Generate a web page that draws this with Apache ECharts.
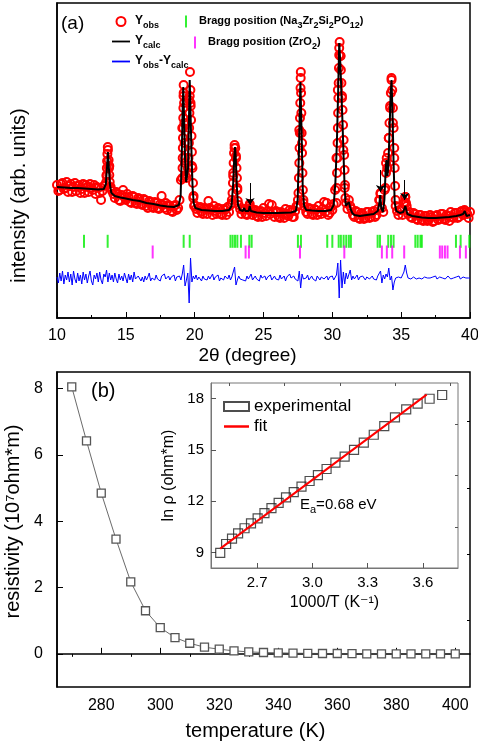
<!DOCTYPE html>
<html>
<head>
<meta charset="utf-8">
<script src="https://cdn.jsdelivr.net/npm/echarts@6/dist/echarts.min.js"></script>
<style>
html, body { margin: 0; padding: 0; background: #fff; }
#main { width: 478px; height: 748px; }
</style>
</head>
<body>
<div id="main"></div>
<script>
// ---------- panel (a): XRD refinement ----------
// observed intensity on a 0.1 degree scan grid, 10..40 deg
var obsStart = 10, obsStep = 0.1;
var obsScan = [
  133, 127, 128, 134, 135, 129, 130, 136, 126, 132,
  134, 126, 131, 135, 127, 132, 133, 125, 129, 134,
  125, 133, 131, 126, 134, 130, 128, 133, 124, 131,
  130, 125, 118, 127, 132, 133, 142, 168, 152, 131,
  127, 124, 120, 126, 124, 118, 117, 123, 128, 121,
  118, 124, 121, 116, 115, 122, 121, 115, 114, 120,
  119, 114, 113, 119, 118, 112, 110, 117, 116, 111,
  110, 116, 115, 110, 109, 114, 122, 113, 110, 115,
  108, 113, 112, 107, 106, 112, 113, 108, 110, 118,
  138, 190, 225, 160, 140, 150, 218, 215, 152, 120,
  113, 109, 105, 110, 111, 106, 104, 110, 109, 104,
  117, 110, 108, 103, 112, 107, 104, 110, 109, 104,
  103, 109, 108, 103, 111, 106, 113, 118, 142, 170,
  160, 130, 113, 109, 104, 108, 109, 104, 103, 108,
  114, 108, 103, 107, 108, 102, 101, 106, 107, 101,
  110, 105, 102, 107, 114, 104, 113, 106, 101, 107,
  106, 101, 100, 106, 104, 100, 109, 104, 102, 108,
  106, 101, 101, 107, 112, 118, 188, 240, 175, 118,
  111, 106, 104, 110, 109, 104, 103, 109, 108, 103,
  112, 106, 104, 109, 116, 106, 115, 103, 105, 111,
  108, 114, 128, 160, 228, 270, 262, 220, 168, 130,
  115, 109, 118, 112, 109, 103, 101, 107, 106, 100,
  99, 105, 104, 99, 100, 106, 106, 100, 101, 106,
  107, 101, 103, 109, 118, 124, 110, 106, 128, 155,
  150, 180, 212, 238, 195, 160, 112, 107, 103, 108,
  108, 103, 114, 121, 112, 104, 106, 101, 100, 105,
  104, 99, 98, 103, 103, 98, 97, 102, 102, 97,
  98, 103, 101, 96, 97, 102, 103, 98, 99, 104,
  104, 99, 98, 103, 102, 97, 106, 101, 100, 105,
  105, 100, 101, 106, 107, 103, 108, 106, 104, 100,
  106
];
// extra observed points on the peak flanks [2theta, intensity]
var obsPeaks = [
  [13.58, 136], [13.6, 143], [13.62, 150], [13.64, 157], [13.66, 164], [13.69, 171],
  [13.75, 158], [13.78, 150], [13.8, 143], [13.83, 136], [13.86, 130],
  [19.1, 140], [19.12, 150], [19.13, 160], [19.14, 170], [19.15, 180], [19.16, 190],
  [19.17, 200], [19.18, 210], [19.19, 222], [19.2, 233], [19.23, 215], [19.25, 195],
  [19.27, 175], [19.3, 155], [19.34, 142],
  [19.52, 145], [19.55, 160], [19.58, 175], [19.6, 190], [19.62, 205], [19.64, 222],
  [19.66, 246], [19.69, 228], [19.71, 212], [19.74, 198], [19.77, 182], [19.8, 166],
  [19.84, 150], [19.88, 135], [19.92, 122], [19.96, 112],
  [22.7, 115], [22.75, 125], [22.78, 135], [22.8, 145], [22.83, 155], [22.86, 165],
  [22.9, 173], [22.95, 170], [23.0, 162], [23.04, 150], [23.07, 140], [23.1, 128], [23.13, 117],
  [23.98, 112], [24.04, 110],
  [27.5, 112], [27.54, 125], [27.57, 140], [27.6, 155], [27.62, 170], [27.64, 185],
  [27.65, 200], [27.67, 215], [27.69, 230], [27.71, 246], [27.73, 225], [27.75, 205],
  [27.77, 185], [27.8, 165], [27.83, 145], [27.86, 128], [27.9, 115],
  [30.3, 115], [30.32, 130], [30.34, 145], [30.36, 160], [30.38, 175], [30.4, 190],
  [30.42, 205], [30.44, 220], [30.46, 235], [30.48, 250], [30.5, 263], [30.53, 276],
  [30.58, 262], [30.62, 248], [30.66, 235], [30.7, 222], [30.74, 208], [30.78, 193],
  [30.82, 178], [30.86, 163], [30.89, 148], [30.92, 133], [30.95, 120],
  [33.45, 118], [33.5, 125],
  [33.85, 130], [33.9, 145], [33.95, 160], [34.0, 150], [34.05, 165], [34.1, 180],
  [34.15, 195], [34.2, 210], [34.25, 225], [34.3, 240], [34.35, 228], [34.4, 210],
  [34.45, 190], [34.5, 170], [34.53, 150], [34.56, 132], [34.6, 118],
  [35.25, 116], [35.3, 121], [35.35, 115]
];
// calculated profile [2theta, intensity]
var calcCurve = [
  [10, 131], [10.5, 130.5], [11, 130], [11.5, 130], [12, 129.5], [12.5, 129], [13, 128.5],
  [13.4, 129], [13.55, 134], [13.63, 150], [13.7, 166], [13.76, 152], [13.84, 134], [13.95, 125],
  [14.2, 122], [14.6, 120.5], [15, 119.5], [15.5, 118], [16, 117], [16.5, 115], [17, 114],
  [17.5, 112.5], [18, 111.5], [18.5, 111], [18.85, 113], [18.98, 122], [19.06, 160], [19.12, 205],
  [19.17, 231], [19.22, 205], [19.3, 160], [19.38, 136], [19.45, 134], [19.52, 150], [19.58, 195],
  [19.64, 238], [19.7, 205], [19.77, 165], [19.85, 130], [19.93, 115], [20.05, 110], [20.5, 108],
  [21, 107.5], [21.5, 107], [22, 107], [22.5, 108], [22.68, 112], [22.8, 135], [22.88, 162],
  [22.93, 171], [22.98, 162], [23.06, 132], [23.15, 113], [23.3, 108], [23.5, 107], [23.6, 110],
  [23.68, 107], [23.92, 107], [24.0, 112], [24.08, 107], [24.5, 105.5], [25, 105], [26, 105],
  [27, 105.5], [27.35, 107], [27.48, 118], [27.58, 170], [27.68, 236], [27.76, 190], [27.85, 130],
  [27.95, 112], [28.1, 108], [28.5, 107.5], [29, 107], [29.5, 107], [29.9, 108], [30.1, 113],
  [30.22, 135], [30.33, 175], [30.42, 225], [30.5, 275], [30.58, 255], [30.66, 225], [30.74, 195],
  [30.82, 160], [30.9, 128], [30.98, 112], [31.1, 111], [31.2, 116], [31.3, 110], [31.45, 105],
  [31.6, 103], [32, 102], [32.5, 103], [33, 104], [33.3, 107], [33.42, 115], [33.48, 123],
  [33.55, 110], [33.68, 106], [33.78, 118], [33.88, 150], [33.93, 158], [34.0, 142], [34.07, 152],
  [34.15, 185], [34.23, 222], [34.3, 238], [34.37, 205], [34.45, 155], [34.53, 115], [34.65, 107],
  [34.9, 105], [35.15, 106], [35.3, 112], [35.45, 104], [35.8, 102], [36.5, 100.5], [37, 100],
  [37.5, 100], [38, 100.5], [38.5, 101], [39, 102], [39.3, 103], [39.5, 104], [39.62, 107],
  [39.75, 102], [40, 103]
];
// difference curve on a 0.1 degree grid
var diffStart = 10, diffStep = 0.1;
var diffScan = [
  41, 35, 45, 37, 47, 34, 43, 38, 46, 36,
  44, 33, 47, 39, 35, 45, 37, 43, 34, 46,
  38, 44, 35, 42, 47, 37, 33, 43, 39, 45,
  36, 46, 38, 34, 44, 41, 48, 36, 45, 38,
  43, 36, 45, 39, 35, 44, 38, 42, 37, 45,
  40, 35, 44, 38, 43, 36, 46, 39, 37, 42,
  43, 37, 41, 36, 42, 38, 41, 45, 37, 40,
  41, 38, 43, 39, 40, 37, 42, 40, 44, 39,
  40, 42, 38, 41, 39, 43, 37, 41, 40, 42,
  38, 44, 53, 32, 38, 45, 15, 60, 36, 42,
  39, 43, 38, 41, 40, 37, 42, 39, 41, 38,
  42, 39, 40, 44, 38, 41, 39, 43, 37, 40,
  41, 38, 42, 40, 39, 43, 38, 41, 43, 51,
  33, 38, 42, 39, 41, 38, 40, 37, 42, 39,
  41, 44, 38, 40, 42, 39, 41, 37, 43, 40,
  39, 42, 38, 41, 40, 43, 38, 40, 42, 39,
  41, 38, 43, 39, 40, 42, 37, 41, 39, 44,
  40, 38, 42, 39, 41, 37, 47, 30, 44, 39,
  41, 40, 43, 38, 40, 42, 39, 41, 37, 42,
  40, 38, 41, 43, 39, 40, 42, 38, 41, 39,
  42, 38, 40, 43, 55, 20, 58, 30, 46, 34,
  45, 39, 41, 48, 38, 42, 39, 40, 43, 38,
  41, 39, 42, 40, 38, 41, 43, 39, 40, 42,
  39, 41, 38, 42, 44, 47, 35, 43, 39, 44,
  41, 50, 38, 42, 28, 36, 40, 38, 41, 39,
  40, 41, 46, 53, 45, 40, 41, 39, 40, 41,
  40, 39, 41, 40, 42, 39, 40, 41, 39, 40,
  41, 40, 39, 41, 40, 42, 39, 40, 41, 39,
  40, 41, 39, 40, 42, 40, 39, 41, 40, 39,
  41, 40, 42, 39, 40, 41, 39, 40, 42, 40,
  40
];
var braggNZSP = [11.96, 13.68, 19.2, 19.64, 22.6, 22.76, 22.93, 23.1, 23.36, 23.97, 24.14,
  27.5, 27.72, 29.63, 30.0, 30.46, 30.62, 30.82, 31.01, 31.2, 31.35, 33.29, 33.46,
  34.06, 34.26, 34.45, 36.03, 36.2, 36.4, 36.5, 38.98, 39.32, 39.95];
var braggZrO2 = [16.95, 23.7, 23.94, 27.65, 30.87, 33.6, 33.96, 34.35, 35.22,
  37.81, 37.98, 38.18, 38.37, 39.27, 39.7];
// impurity arrows: [2theta, tail, tip]
var impurityArrows = [[24.02, 135, 113], [33.5, 148, 126], [35.26, 138, 118]];
var twoThetaTicks = [10, 15, 20, 25, 30, 35, 40];

// ---------- panel (b): resistivity ----------
var temperature = [270, 275, 280, 285, 290, 295, 300, 305, 310, 315, 320, 325, 330, 335,
  340, 345, 350, 355, 360, 365, 370, 375, 380, 385, 390, 395, 400];
var resistivity = [8.05, 6.42, 4.85, 3.46, 2.17, 1.30, 0.79, 0.49, 0.32, 0.20, 0.14, 0.09,
  0.06, 0.04, 0.03, 0.02, 0.015, 0.01, 0.01, 0.005, 0, 0, 0, 0, 0, 0, 0];
var inverseT = [3.704, 3.636, 3.571, 3.509, 3.448, 3.390, 3.333, 3.279, 3.226, 3.175, 3.125,
  3.077, 3.030, 2.985, 2.941, 2.899, 2.857, 2.817, 2.778, 2.740, 2.703, 2.667, 2.632, 2.597,
  2.564, 2.532, 2.500];
var lnRho = [18.2, 17.98, 17.7, 17.36, 16.89, 16.38, 15.88, 15.42, 15.0, 14.6, 14.25, 13.88,
  13.52, 13.18, 12.85, 12.53, 12.22, 11.9, 11.6, 11.3, 11.0, 10.7, 10.42, 10.12, 9.82, 9.5, 8.98];
var fitLine = [[2.5, 9.23], [3.62, 18.22]];
var tempTicks = [280, 300, 320, 340, 360, 380, 400];
var tempMinor = [270, 290, 310, 330, 350, 370, 390];
var rhoTicks = [0, 2, 4, 6, 8];
var rhoMinor = [1, 3, 5, 7];
var invTTicks = [2.7, 3.0, 3.3, 3.6];
var invTMinor = [2.55, 2.85, 3.15, 3.45, 3.75];
var lnTicks = [9, 12, 15, 18];
var lnMinor = [10.5, 13.5, 16.5];

var chartDom = document.getElementById('main');
var myChart = echarts.init(chartDom, null, { renderer: 'canvas' });

var obsData = obsScan.map(function (v, i) { return [obsStart + i * obsStep, v]; }).concat(obsPeaks);
var diffData = diffScan.map(function (v, i) { return [diffStart + i * diffStep, v]; });

var legendNames = {
    'Yobs': '{b|Y}{s|obs}',
    'Ycalc': '{b|Y}{s|calc}',
    'Yobs-Ycalc': '{b|Y}{s|obs}{b|-Y}{s|calc}',
    'Bragg position (Na3Zr2Si2PO12)': '{g|Bragg position (Na}{s|3}{g|Zr}{s|2}{g|Si}{s|2}{g|PO}{s|12}{g|)}',
    'Bragg position (ZrO2)': '{g|Bragg position (ZrO}{s|2}{g|)}'
};
var subRich = {
    b: { fontSize: 12, fontWeight: 'bold', lineHeight: 13, verticalAlign: 'top', color: '#000' },
    g: { fontSize: 11, fontWeight: 'bold', lineHeight: 13, verticalAlign: 'top', color: '#000' },
    s: { fontSize: 9, fontWeight: 'bold', lineHeight: 9, padding: [6, 0, 0, 0], verticalAlign: 'top', color: '#000' }
};
function legendFmt(name) { return legendNames[name] || name; }
var lineIcon = 'path://M0,0H20V2H0Z';

// extra axis that only carries the short (minor) ticks
function tickAxis(grid, min, max, ticks, len, color) {
    return {
        type: 'value', gridIndex: grid, min: min, max: max,
        splitLine: { show: false },
        axisLine: { show: false },
        axisTick: { inside: true, length: len, customValues: ticks, lineStyle: { color: color, width: 1 } },
        axisLabel: { show: false, customValues: ticks }
    };
}

var font = 'Liberation Sans, Arial, Helvetica, DejaVu Sans, sans-serif';

var option = {
    animation: false,
    backgroundColor: '#fff',
    textStyle: { fontFamily: font, color: '#000' },
    grid: [
        { left: 57, right: 8, top: 3, height: 315, outerBoundsMode: 'none', containLabel: false,
          show: true, borderColor: '#000', borderWidth: 1.5, backgroundColor: '#fff' },
        { left: 57, right: 8, top: 372, height: 315, outerBoundsMode: 'none', containLabel: false,
          show: true, borderColor: '#000', borderWidth: 1.5, backgroundColor: '#fff' },
        { left: 211, right: 20, top: 383, height: 185, outerBoundsMode: 'none', containLabel: false,
          show: true, borderColor: '#777', borderWidth: 1, backgroundColor: '#fff' }
    ],
    legend: [
        {
            data: [
                { name: 'Yobs' },
                { name: 'Ycalc', icon: lineIcon, itemStyle: { color: '#000' } },
                { name: 'Yobs-Ycalc', icon: lineIcon, itemStyle: { color: '#0000ff' } }
            ],
            orient: 'vertical', left: 107, top: 10,
            itemWidth: 18, itemHeight: 9, itemGap: 5, selectedMode: false,
            formatter: legendFmt, textStyle: { rich: subRich }
        },
        {
            data: ['Bragg position (Na3Zr2Si2PO12)'], left: 180, top: 10,
            itemWidth: 2, itemHeight: 12, symbolKeepAspect: false, selectedMode: false,
            formatter: legendFmt, textStyle: { rich: subRich, padding: [0, 0, 0, 7] }
        },
        {
            data: ['Bragg position (ZrO2)'], left: 189, top: 31,
            itemWidth: 2, itemHeight: 12, symbolKeepAspect: false, selectedMode: false,
            formatter: legendFmt, textStyle: { rich: subRich, padding: [0, 0, 0, 7] }
        },
        {
            data: [
                { name: 'experimental' },
                { name: 'fit', icon: lineIcon, itemStyle: { color: '#ff0000' } }
            ],
            orient: 'vertical', left: 218, top: 393,
            itemWidth: 25, itemHeight: 9, itemGap: 3, selectedMode: false,
            textStyle: { fontSize: 17, color: '#000' }
        }
    ],
    xAxis: [
        {
            type: 'value', gridIndex: 0, min: 10, max: 40, interval: 5,
            splitLine: { show: false },
            axisLine: { lineStyle: { color: '#000', width: 1.5 } },
            axisTick: { inside: true, length: 6, lineStyle: { color: '#000' } },
            minorTick: { show: true, splitNumber: 2, length: 3, lineStyle: { color: '#000' } },
            axisLabel: { fontSize: 16, color: '#000', margin: 10, customValues: twoThetaTicks },
            name: '2θ (degree)', nameLocation: 'middle', nameGap: 28,
            nameTextStyle: { fontSize: 19, color: '#000', padding: [0, 32, 0, 0] }
        },
        {
            type: 'value', gridIndex: 1, min: 265, max: 405,
            splitLine: { show: false },
            axisLine: { lineStyle: { color: '#000', width: 1.5 } },
            axisTick: { inside: true, length: 6, customValues: tempTicks, lineStyle: { color: '#000' } },
            axisLabel: { fontSize: 16, color: '#000', margin: 11, customValues: tempTicks },
            name: 'temperature (K)', nameLocation: 'middle', nameGap: 34,
            nameTextStyle: { fontSize: 20, color: '#000', padding: [0, 16, 0, 0] }
        },
        tickAxis(1, 265, 405, tempMinor, 3, '#000'),
        {
            type: 'value', gridIndex: 2, min: 2.45, max: 3.79,
            splitLine: { show: false },
            axisLine: { lineStyle: { color: '#777', width: 1 } },
            axisTick: { inside: true, length: 5, customValues: invTTicks, lineStyle: { color: '#555' } },
            axisLabel: {
                fontSize: 15, color: '#000', margin: 7, customValues: invTTicks,
                formatter: function (v) { return v.toFixed(1); }
            },
            name: '1000/T (K⁻¹)', nameLocation: 'middle', nameGap: 27,
            nameTextStyle: { fontSize: 16, color: '#000' }
        },
        tickAxis(2, 2.45, 3.79, invTMinor, 3, '#555')
    ],
    yAxis: [
        {
            type: 'value', gridIndex: 0, min: 0, max: 315,
            splitLine: { show: false },
            axisLine: { lineStyle: { color: '#000', width: 1.5 } },
            axisTick: { show: false }, axisLabel: { show: false },
            name: 'intensity (arb. units)', nameLocation: 'middle', nameGap: 28,
            nameTextStyle: { fontSize: 20, color: '#000', padding: [0, 70, 0, 0] }
        },
        {
            type: 'value', gridIndex: 1, min: -1, max: 8.5,
            splitLine: { show: false },
            axisLine: { lineStyle: { color: '#000', width: 1.5 } },
            axisTick: { inside: true, length: 6, customValues: rhoTicks, lineStyle: { color: '#000' } },
            axisLabel: { fontSize: 16, color: '#000', margin: 14, customValues: rhoTicks },
            name: 'resistivity (10⁷ohm*m)', nameLocation: 'middle', nameGap: 25,
            nameTextStyle: { fontSize: 20, color: '#000', padding: [0, 0, 0, 16] }
        },
        tickAxis(1, -1, 8.5, rhoMinor, 3, '#000'),
        {
            type: 'value', gridIndex: 2, min: 8.1, max: 18.9,
            splitLine: { show: false },
            axisLine: { lineStyle: { color: '#777', width: 1 } },
            axisTick: { inside: true, length: 5, customValues: lnTicks, lineStyle: { color: '#555' } },
            axisLabel: { fontSize: 15, color: '#000', margin: 7, customValues: lnTicks },
            name: 'ln ρ (ohm*m)', nameLocation: 'middle', nameGap: 26,
            nameTextStyle: { fontSize: 16, color: '#000' }
        },
        tickAxis(2, 8.1, 18.9, lnMinor, 3, '#555')
    ],
    graphic: [
        { type: 'text', left: 61, top: 14, style: { text: '(a)', fontSize: 19, fontFamily: font, fill: '#000' } },
        { type: 'text', left: 91, top: 381, style: { text: '(b)', fontSize: 20, fontFamily: font, fill: '#000' } },
        {
            type: 'text', left: 300, top: 497, z: 10,
            style: {
                text: '{n|E}{s|a}{n|=0.68 eV}', fontFamily: font,
                rich: {
                    n: { fontSize: 15, lineHeight: 15, verticalAlign: 'top', fill: '#000', fontFamily: font },
                    s: { fontSize: 11, lineHeight: 11, padding: [7, 0, 0, 0], verticalAlign: 'top', fill: '#000', fontFamily: font }
                }
            }
        }
    ],
    series: [
        {
            name: 'Yobs', type: 'scatter', xAxisIndex: 0, yAxisIndex: 0,
            data: obsData, symbol: 'circle', symbolSize: 8, z: 2,
            itemStyle: { color: 'transparent', borderColor: '#ff0000', borderWidth: 2, opacity: 1 }
        },
        {
            name: 'Ycalc', type: 'line', xAxisIndex: 0, yAxisIndex: 0,
            data: calcCurve, symbol: 'none', z: 3,
            lineStyle: { color: '#000', width: 2 }, itemStyle: { color: '#000' }
        },
        {
            name: 'Yobs-Ycalc', type: 'line', xAxisIndex: 0, yAxisIndex: 0,
            data: diffData, symbol: 'none', z: 3,
            lineStyle: { color: '#0000ff', width: 1 }, itemStyle: { color: '#0000ff' }
        },
        {
            name: 'Bragg position (Na3Zr2Si2PO12)', type: 'scatter', xAxisIndex: 0, yAxisIndex: 0,
            data: braggNZSP.map(function (d) { return [d, 76.7]; }),
            symbol: 'rect', symbolSize: [2, 13], z: 3,
            itemStyle: { color: '#00ee00' }
        },
        {
            name: 'Bragg position (ZrO2)', type: 'scatter', xAxisIndex: 0, yAxisIndex: 0,
            data: braggZrO2.map(function (d) { return [d, 66]; }),
            symbol: 'rect', symbolSize: [2, 13], z: 3,
            itemStyle: { color: '#ff00ff' }
        },
        {
            type: 'lines', coordinateSystem: 'cartesian2d', xAxisIndex: 0, yAxisIndex: 0, z: 5,
            symbol: ['none', 'arrow'], symbolSize: 7,
            lineStyle: { color: '#000', width: 1, opacity: 1 },
            data: impurityArrows.map(function (a) { return { coords: [[a[0], a[1]], [a[0], a[2]]] }; })
        },
        {
            name: 'resistivity', type: 'line', xAxisIndex: 1, yAxisIndex: 1,
            data: temperature.map(function (t, i) { return [t, resistivity[i]]; }),
            symbol: 'rect', symbolSize: 8, z: 3,
            lineStyle: { color: '#444', width: 0.8 },
            itemStyle: { color: '#fff', borderColor: '#555', borderWidth: 1.3 }
        },
        {
            name: 'experimental', type: 'scatter', xAxisIndex: 3, yAxisIndex: 3,
            data: inverseT.map(function (x, i) { return [x, lnRho[i]]; }),
            symbol: 'rect', symbolSize: 9, z: 4,
            itemStyle: { color: 'transparent', borderColor: '#222', borderWidth: 1.2 }
        },
        {
            name: 'fit', type: 'line', xAxisIndex: 3, yAxisIndex: 3,
            data: fitLine, symbol: 'none', z: 5,
            lineStyle: { color: '#ff0000', width: 2 }, itemStyle: { color: '#ff0000' }
        }
    ]
};

option && myChart.setOption(option);
</script>
</body>
</html>
